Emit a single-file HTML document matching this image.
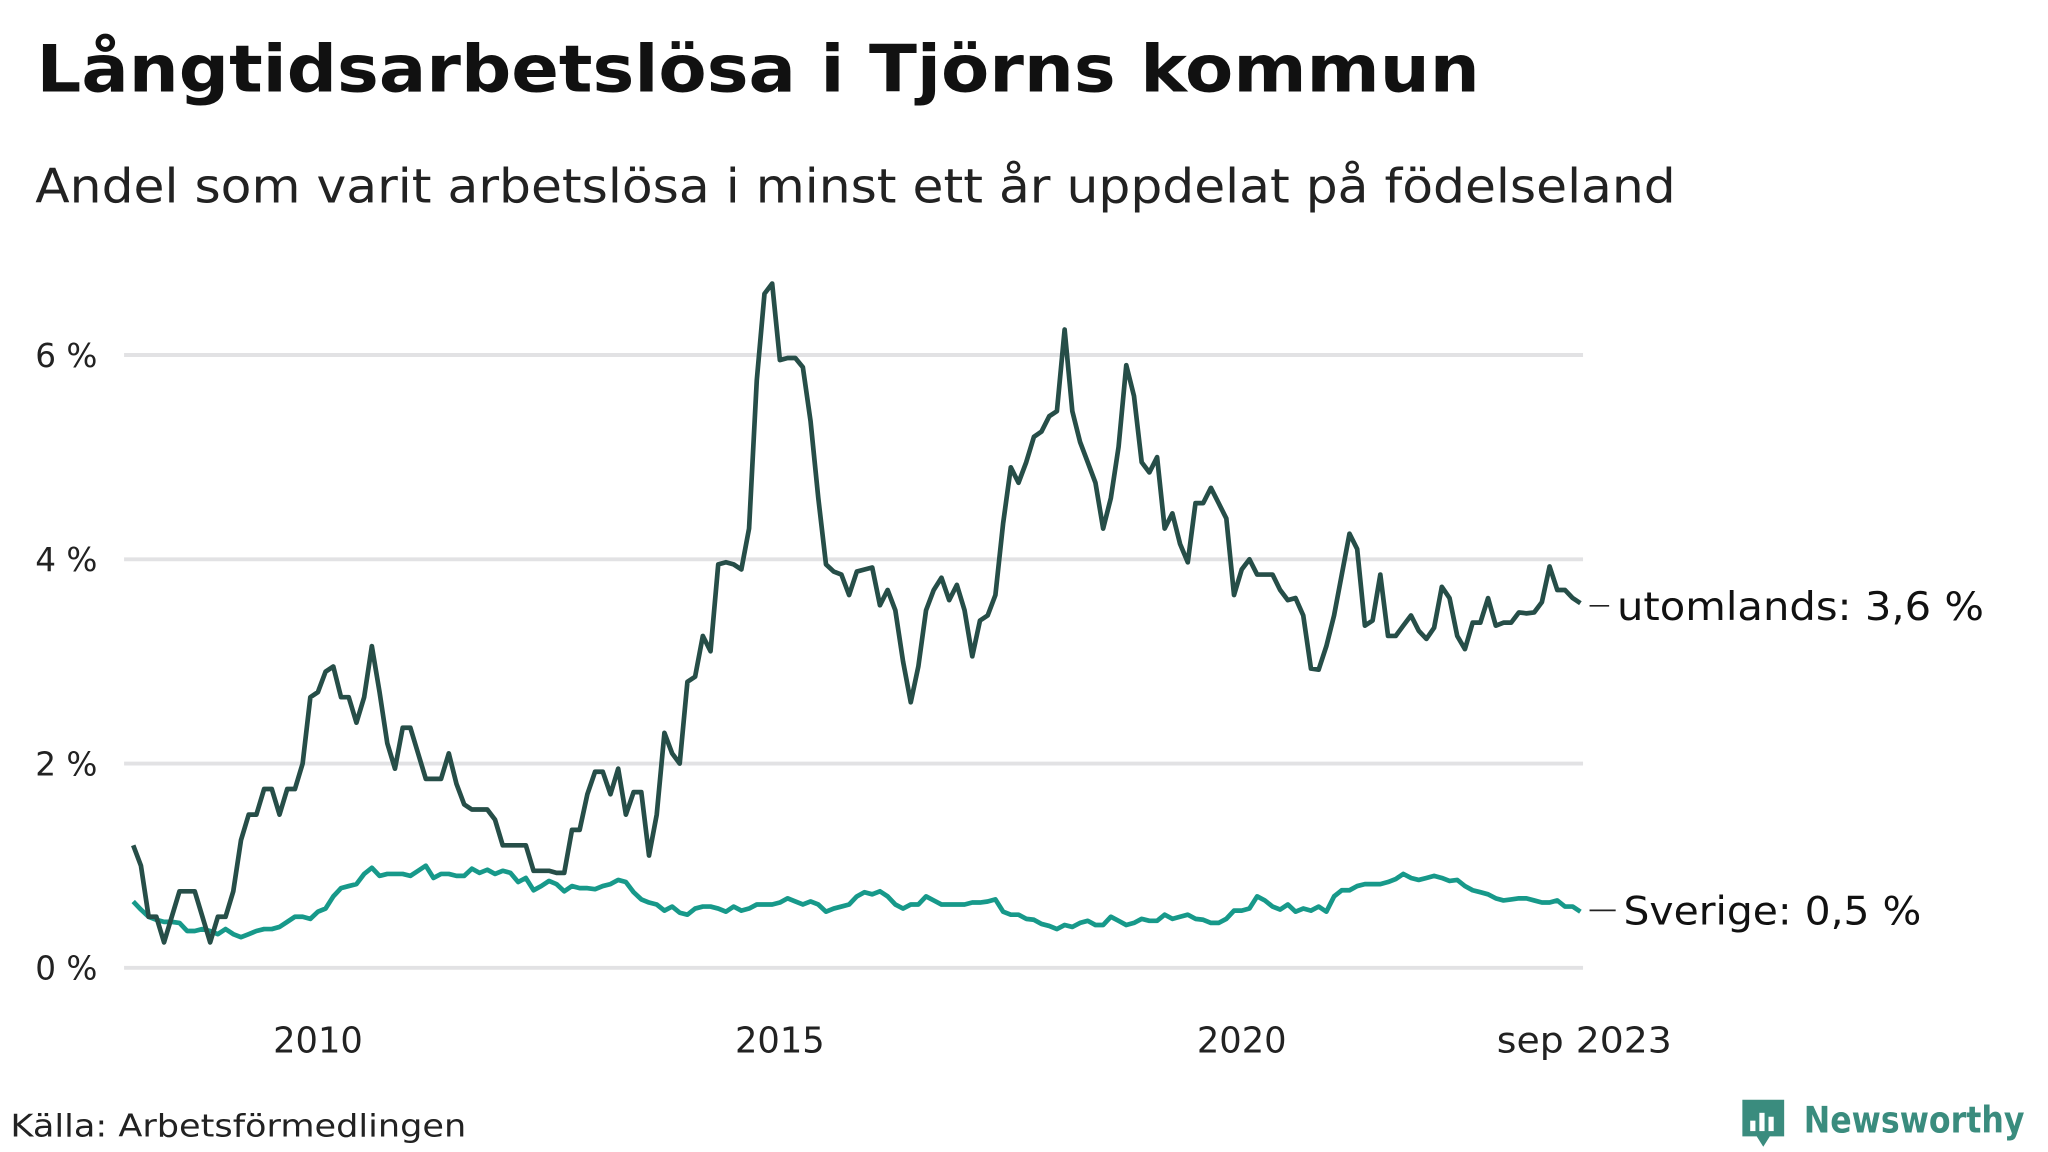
<!DOCTYPE html>
<html><head><meta charset="utf-8"><style>
html,body{margin:0;padding:0;background:#fff;}
svg{display:block;font-family:"DejaVu Sans","Liberation Sans",sans-serif;}
</style></head><body>
<svg id="chart" width="2048" height="1152" viewBox="0 0 1568 882" xmlns="http://www.w3.org/2000/svg">
<text x="28" y="70" font-size="50" font-weight="bold" fill="#111" textLength="1105" lengthAdjust="spacingAndGlyphs">Långtidsarbetslösa i Tjörns kommun</text>
<text x="27" y="155" font-size="36" fill="#222" textLength="1256" lengthAdjust="spacingAndGlyphs">Andel som varit arbetslösa i minst ett år uppdelat på födelseland</text>
<g id="grid"></g>
<g id="yticks"></g>
<g id="xticks"></g>
<g id="lines"></g>
<text x="8" y="870" font-size="24" fill="#222" textLength="349" lengthAdjust="spacingAndGlyphs">Källa: Arbetsförmedlingen</text>
<g>
<path d="M1334 842 h32 v28 h-11 l-5 8 l-5 -8 h-11z" fill="#3a8c7e"/>
<rect x="1340" y="858" width="4" height="8" fill="#fff"/><rect x="1347" y="852" width="4" height="14" fill="#fff"/><rect x="1354" y="855" width="4" height="11" fill="#fff"/>
<text x="1381" y="867" font-size="28" font-weight="bold" fill="#3a8c7e" textLength="169" lengthAdjust="spacingAndGlyphs">Newsworthy</text>
</g>
</svg>
<script>
const years=[2010,2015,2020];
const yTicks=[0,2,4,6];
const yTickLabels=["0 %","2 %","4 %","6 %"];
const utomlands=[1.2,1.0,0.5,0.5,0.25,0.5,0.75,0.75,0.75,0.5,0.25,0.5,
0.5,0.75,1.25,1.5,1.5,1.75,1.75,1.5,1.75,1.75,2.0,2.65,
2.7,2.9,2.95,2.65,2.65,2.4,2.65,3.15,2.7,2.2,1.95,2.35,
2.35,2.1,1.85,1.85,1.85,2.1,1.8,1.6,1.55,1.55,1.55,1.45,
1.2,1.2,1.2,1.2,0.95,0.95,0.95,0.93,0.93,1.35,1.35,1.7,
1.92,1.92,1.7,1.95,1.5,1.72,1.72,1.1,1.5,2.3,2.1,2.0,
2.8,2.85,3.25,3.1,3.95,3.97,3.95,3.9,4.3,5.75,6.6,6.7,
5.95,5.97,5.97,5.88,5.35,4.6,3.95,3.88,3.85,3.65,3.88,3.9,
3.92,3.55,3.7,3.5,3.0,2.6,2.95,3.5,3.7,3.82,3.6,3.75,
3.5,3.05,3.4,3.45,3.65,4.35,4.9,4.75,4.95,5.2,5.25,5.4,
5.45,6.25,5.45,5.15,4.95,4.75,4.3,4.6,5.1,5.9,5.6,4.95,
4.85,5.0,4.3,4.45,4.15,3.97,4.55,4.55,4.7,4.55,4.4,3.65,
3.9,4.0,3.85,3.85,3.85,3.7,3.6,3.62,3.45,2.93,2.92,3.15,
3.45,3.85,4.25,4.1,3.35,3.4,3.85,3.25,3.25,3.35,3.45,3.3,
3.22,3.33,3.73,3.62,3.25,3.12,3.38,3.38,3.62,3.35,3.38,3.38,
3.48,3.47,3.48,3.58,3.93,3.7,3.7,3.62,3.57];
const sverige=[0.65,0.57,0.5,0.47,0.45,0.45,0.44,0.36,0.36,0.38,0.36,0.33,
0.38,0.33,0.3,0.33,0.36,0.38,0.38,0.4,0.45,0.5,0.5,0.48,
0.55,0.58,0.7,0.78,0.8,0.82,0.92,0.98,0.9,0.92,0.92,0.92,
0.9,0.95,1.0,0.88,0.92,0.92,0.9,0.9,0.97,0.93,0.96,0.92,
0.95,0.93,0.84,0.88,0.76,0.8,0.85,0.82,0.75,0.8,0.78,0.78,
0.77,0.8,0.82,0.86,0.84,0.74,0.67,0.64,0.62,0.56,0.6,0.54,
0.52,0.58,0.6,0.6,0.58,0.55,0.6,0.56,0.58,0.62,0.62,0.62,
0.64,0.68,0.65,0.62,0.65,0.62,0.55,0.58,0.6,0.62,0.7,0.74,
0.72,0.75,0.7,0.62,0.58,0.62,0.62,0.7,0.66,0.62,0.62,0.62,
0.62,0.64,0.64,0.65,0.67,0.55,0.52,0.52,0.48,0.47,0.43,0.41,
0.38,0.42,0.4,0.44,0.46,0.42,0.42,0.5,0.46,0.42,0.44,0.48,
0.46,0.46,0.52,0.48,0.5,0.52,0.48,0.47,0.44,0.44,0.48,0.56,
0.56,0.58,0.7,0.66,0.6,0.57,0.62,0.55,0.58,0.56,0.6,0.55,
0.7,0.76,0.76,0.8,0.82,0.82,0.82,0.84,0.87,0.92,0.88,0.86,
0.88,0.9,0.88,0.85,0.86,0.8,0.76,0.74,0.72,0.68,0.66,0.67,
0.68,0.68,0.66,0.64,0.64,0.66,0.6,0.6,0.55];
const startYear=2008;
const NS="http://www.w3.org/2000/svg";
const x0=102,x1=1210,n=utomlands.length;
function xIdx(i){return x0+i*(x1-x0)/(n-1);}
function xYear(yr){return xIdx((yr-startYear)*12);}
function y(v){return 741-v*78.2;}
function mk(tag,attrs,parent){const e=document.createElementNS(NS,tag);for(const k in attrs)e.setAttribute(k,attrs[k]);parent.appendChild(e);return e;}
const grid=document.getElementById('grid'),yt=document.getElementById('yticks'),xt=document.getElementById('xticks'),lines=document.getElementById('lines');
yTicks.forEach((t,i)=>{
 const l=mk('line',{x1:95,x2:1212,y1:y(t),y2:y(t),stroke:'#e2e2e4','stroke-width':3},grid);
 
 
 const tx=mk('text',{x:27,y:y(t)+9,'font-size':25,fill:'#222'},yt);
 tx.textContent=yTickLabels[i];
 
 
});
years.forEach(yr=>{
 const tx=mk('text',{x:xYear(yr),y:806,'font-size':27,fill:'#222','text-anchor':'middle'},xt);
 tx.textContent=String(yr);
 
 
});
const last=mk('text',{x:1213,y:806,'font-size':27,fill:'#222','text-anchor':'middle',textLength:134,lengthAdjust:'spacingAndGlyphs'},xt);
last.textContent='sep 2023';


function drawLine(data,color,name){
 const p=mk('polyline',{points:data.map((v,i)=>xIdx(i).toFixed(1)+','+y(v).toFixed(1)).join(' '),fill:'none',stroke:color,'stroke-width':3.6,'stroke-linejoin':'round'},lines);
 
 
}
drawLine(sverige,'#17998a','line-sverige');
drawLine(utomlands,'#264e48','line-utomlands');
function endLabel(data,txt,name,dy,lx,len){
 const yy=y(data[data.length-1])+dy;
 const l=mk('line',{x1:1217,x2:lx-6,y1:yy,y2:yy,stroke:'#222','stroke-width':1.3},lines);
 
 
 const t=mk('text',{x:lx,y:yy+11,'font-size':30,fill:'#111',textLength:len,lengthAdjust:'spacingAndGlyphs'},lines);
 t.textContent=txt;
 
 
}
endLabel(utomlands,'utomlands: 3,6 %','label-utomlands',2,1238,281);
endLabel(sverige,'Sverige: 0,5 %','label-sverige',-1,1243,228);
</script>
</body></html>
